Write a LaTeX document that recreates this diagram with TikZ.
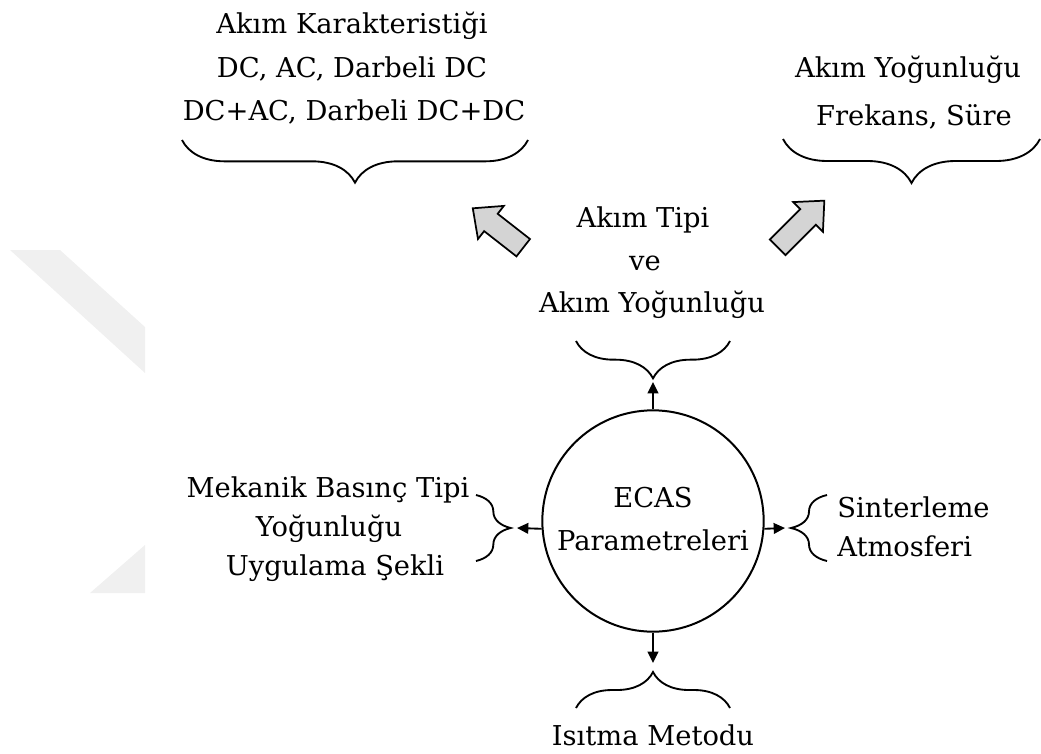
\documentclass[tikz,border=0pt]{standalone}
\usepackage{fontspec}
\setmainfont{DejaVu Serif}
\usetikzlibrary{arrows.meta,decorations.pathreplacing}

\begin{document}
\begin{tikzpicture}[x=0.75pt,y=-0.75pt,
  lbl/.style={anchor=base,inner sep=0pt,font=\fontsize{20.5}{24}\selectfont},
  lblw/.style={lbl,anchor=base west},
  curly/.style={decorate,decoration={brace,amplitude=#1},line width=1.4pt},
  conn/.style={line width=1.4pt,-{Triangle[length=8.5pt,width=8pt]}},
  blockarrow/.style={draw=black,line width=1.3pt,fill=black!17,line join=miter},
  hub/.style={circle,draw,line width=1.5pt,minimum size=166pt,inner sep=0pt},
  shade/.style={fill=black!6,draw=none}
]
\useasboundingbox (0,0) rectangle (1041,753);

% faint chevron in the left margin
\fill[shade] (10,250) -- (60,250) -- (145,327) -- (145,373) -- cycle;
\fill[shade] (90,593) -- (145,545) -- (145,593) -- cycle;

% central circle
\node[hub] (ecas) at (653,521) {};
\node[lbl] (e1) at (653,507) {ECAS};
\node[lbl] (e2) at (653,550) {Parametreleri};

% top-left group
\node[lbl] (k1) at (352,33) {Akım Karakteristiği};
\node[lbl] (k2) at (352,77) {DC, AC, Darbeli DC};
\node[lbl] (k3) at (354,120) {DC+AC, Darbeli DC+DC};
\coordinate (kA) at (528,140);
\coordinate (kB) at (182,140);
\draw[curly=32pt] (kA) -- (kB);

% top-right group
\node[lbl] (y1) at (908,77) {Akım Yoğunluğu};
\node[lbl] (y2) at (914,125) {Frekans, Süre};
\coordinate (yA) at (1040,139);
\coordinate (yB) at (783,139);
\draw[curly=33pt] (yA) -- (yB);

% block arrows pointing to the two upper groups
\begin{scope}[shift={(498,228)},rotate=142]
  \draw[blockarrow] (-32,-11) -- (9,-11) -- (9,-21) -- (32,0) -- (9,21) -- (9,11) -- (-32,11) -- cycle;
\end{scope}
\begin{scope}[shift={(801,224)},rotate=45]
  \draw[blockarrow] (-33,-11) -- (10,-11) -- (10,-21) -- (33,0) -- (10,21) -- (10,11) -- (-33,11) -- cycle;
\end{scope}

% upper branch
\node[lbl] (t1) at (643,227) {Akım Tipi};
\node[lbl] (t2) at (645,270) {ve};
\node[lbl] (t3) at (652,312) {Akım Yoğunluğu};
\coordinate (tA) at (730,341);
\coordinate (tB) at (576,341);
\draw[curly=28pt] (tA) -- (tB);
\coordinate (tTip) at (653,382);
\draw[conn] (ecas.north) -- (tTip);

% left branch
\node[lbl] (m1) at (328,497) {Mekanik Basınç Tipi};
\node[lbl] (m2) at (329,536) {Yoğunluğu};
\node[lbl] (m3) at (335,575) {Uygulama Şekli};
\coordinate (mA) at (476,495);
\coordinate (mB) at (476,561);
\draw[curly=26pt] (mA) -- (mB);
\coordinate (mTip) at (517,528);
\draw[conn] (ecas.184) -- (mTip);

% right branch
\node[lblw] (s1) at (837,517) {Sinterleme};
\node[lblw] (s2) at (837,556) {Atmosferi};
\coordinate (sA) at (827,561);
\coordinate (sB) at (827,495);
\draw[curly=27pt] (sA) -- (sB);
\coordinate (sTip) at (785,528);
\draw[conn] (ecas.356) -- (sTip);

% lower branch
\node[lbl] (h1) at (653,745) {Isıtma Metodu};
\coordinate (hA) at (576,708);
\coordinate (hB) at (730,708);
\draw[curly=27pt] (hA) -- (hB);
\coordinate (hTip) at (653,663);
\draw[conn] (ecas.south) -- (hTip);
\end{tikzpicture}
\end{document}
